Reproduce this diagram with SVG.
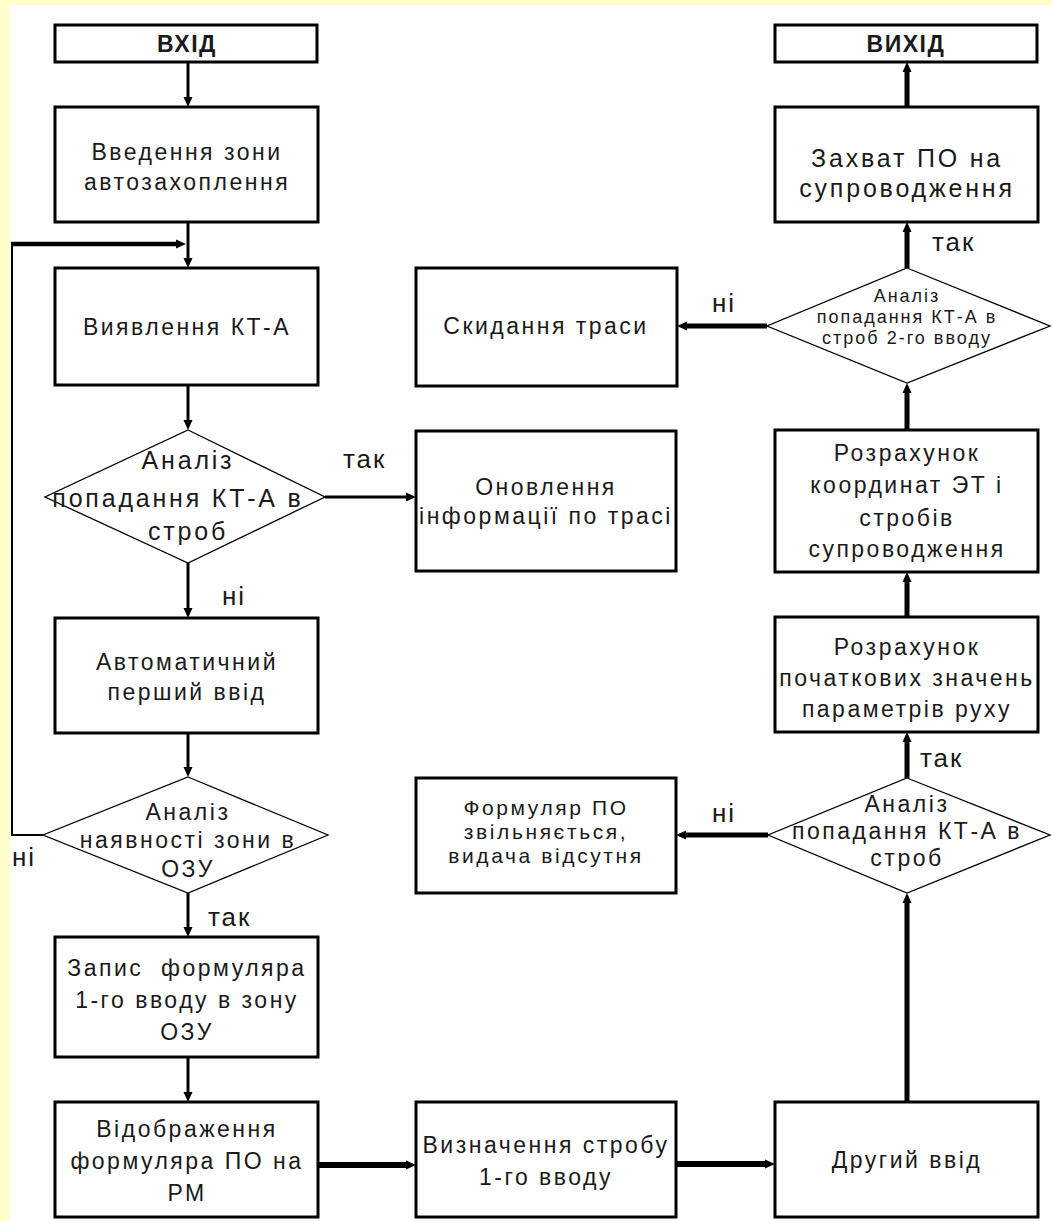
<svg xmlns="http://www.w3.org/2000/svg" width="1052" height="1221" viewBox="0 0 1052 1221">
<style>
.box{fill:#fff;stroke:#000;stroke-width:3}
.dia{fill:#fff;stroke:#000;stroke-width:1.3}
.t{font-family:"Liberation Sans",Arial,sans-serif;font-size:23px;letter-spacing:2.5px;fill:#1a1a1a;text-anchor:middle}
.b{font-weight:bold;font-size:23px;letter-spacing:1.5px}
.big{font-size:25px;letter-spacing:2.8px}
.sm{font-size:18px;letter-spacing:2px}
.mid{font-size:21px;letter-spacing:2.6px}
.lbl{font-family:"Liberation Sans",Arial,sans-serif;font-size:26px;letter-spacing:2px;fill:#1a1a1a}
.c{fill:none;stroke:#000;stroke-width:3}
.k{stroke-width:5}
.kk{stroke-width:6}
.thin{stroke-width:2}
</style>
<defs>
<marker id="ah" markerUnits="userSpaceOnUse" markerWidth="12" markerHeight="10" refX="2" refY="5" orient="auto">
<path d="M0,0.5 L10,5 L0,9.5 Z" fill="#000"/>
</marker>
</defs>
<rect x="0" y="0" width="1052" height="1221" fill="#FFFFCC"/>
<rect x="10" y="5" width="1042" height="1216" fill="#fff"/>

<g id="connectors">
<path class="c" d="M188,62 V99" marker-end="url(#ah)"/>
<path class="c" d="M188,222 V260" marker-end="url(#ah)"/>
<path class="c thin" d="M43,835 H12 V244"/>
<path class="c" style="stroke-width:4.5" d="M11,244 H178" marker-end="url(#ah)"/>
<path class="c" d="M188,385 V422" marker-end="url(#ah)"/>
<path class="c" d="M325,497 H408" marker-end="url(#ah)"/>
<path class="c" d="M188,563 V610" marker-end="url(#ah)"/>
<path class="c" d="M188,733 V769" marker-end="url(#ah)"/>
<path class="c" d="M188,893 V929" marker-end="url(#ah)"/>
<path class="c" d="M188,1057 V1094" marker-end="url(#ah)"/>
<path class="c kk" d="M318,1165 H408" marker-end="url(#ah)"/>
<path class="c kk" d="M676,1164 H767" marker-end="url(#ah)"/>
<path class="c k" d="M907,1102 V901" marker-end="url(#ah)"/>
<path class="c k" d="M768,835 H684" marker-end="url(#ah)"/>
<path class="c k" d="M907,778 V740" marker-end="url(#ah)"/>
<path class="c k" d="M907,617 V580" marker-end="url(#ah)"/>
<path class="c k" d="M907,430 V391" marker-end="url(#ah)"/>
<path class="c k" d="M767,326 H685" marker-end="url(#ah)"/>
<path class="c k" d="M907,268 V230" marker-end="url(#ah)"/>
<path class="c k" d="M907,107 V70" marker-end="url(#ah)"/>
</g>

<g id="lbl-d1-yes"><text class="lbl" x="343" y="468">так</text></g>
<g id="lbl-d1-no"><text class="lbl" x="222" y="605">ні</text></g>
<g id="lbl-d2-no"><text class="lbl" x="12" y="866">ні</text></g>
<g id="lbl-d2-yes"><text class="lbl" x="208" y="926">так</text></g>
<g id="lbl-d3-yes"><text class="lbl" x="932" y="251">так</text></g>
<g id="lbl-d3-no"><text class="lbl" x="712" y="312">ні</text></g>
<g id="lbl-d4-yes"><text class="lbl" x="920" y="767">так</text></g>
<g id="lbl-d4-no"><text class="lbl" x="712" y="822">ні</text></g>

<g id="n-vkhid">
<rect class="box" x="55" y="25" width="262" height="37"/>
<text class="t b" x="187" y="52">ВХІД</text>
</g>
<g id="n-vvedennia">
<rect class="box" x="55" y="107" width="263" height="115"/>
<text class="t" x="187" y="160">Введення зони</text>
<text class="t" x="187" y="190">автозахоплення</text>
</g>
<g id="n-vyiavlennia">
<rect class="box" x="55" y="268" width="263" height="117"/>
<text class="t" x="187" y="335">Виявлення КТ-А</text>
</g>
<g id="n-d1">
<polygon class="dia" points="188,430 325,497 188,563 45,497"/>
<text class="t big" x="188" y="469">Аналіз</text>
<text class="t big" x="178" y="507">попадання КТ-А в</text>
<text class="t big" x="188" y="540">строб</text>
</g>
<g id="n-onovlennia">
<rect class="box" x="416" y="431" width="260" height="140"/>
<text class="t" x="546" y="495">Оновлення</text>
<text class="t" x="546" y="524">інформації по трасі</text>
</g>
<g id="n-avtomat">
<rect class="box" x="55" y="618" width="263" height="115"/>
<text class="t" x="187" y="670">Автоматичний</text>
<text class="t" x="187" y="700">перший ввід</text>
</g>
<g id="n-d2">
<polygon class="dia" points="188,777 328,835 188,893 43,835"/>
<text class="t" x="188" y="820">Аналіз</text>
<text class="t" x="188" y="848">наявності зони в</text>
<text class="t" x="188" y="877">ОЗУ</text>
</g>
<g id="n-zapys">
<rect class="box" x="55" y="937" width="263" height="120"/>
<text class="t" x="187" y="976" xml:space="preserve">Запис  формуляра</text>
<text class="t" x="187" y="1008">1-го вводу в зону</text>
<text class="t" x="187" y="1040">ОЗУ</text>
</g>
<g id="n-vidobrazhennia">
<rect class="box" x="55" y="1102" width="263" height="115"/>
<text class="t" x="187" y="1137">Відображення</text>
<text class="t" x="187" y="1169">формуляра ПО на</text>
<text class="t" x="187" y="1201">РМ</text>
</g>
<g id="n-vyznachennia">
<rect class="box" x="416" y="1102" width="260" height="115"/>
<text class="t" x="546" y="1153">Визначення стробу</text>
<text class="t" x="546" y="1185">1-го вводу</text>
</g>
<g id="n-druhyi">
<rect class="box" x="775" y="1102" width="263" height="115"/>
<text class="t" x="907" y="1168">Другий ввід</text>
</g>
<g id="n-d4">
<polygon class="dia" points="907,778 1050,835 907,893 768,835"/>
<text class="t" x="907" y="812">Аналіз</text>
<text class="t" x="907" y="839">попадання КТ-А в</text>
<text class="t" x="907" y="866">строб</text>
</g>
<g id="n-formuliar">
<rect class="box" x="416" y="778" width="260" height="115"/>
<text class="t mid" x="546" y="815">Формуляр ПО</text>
<text class="t mid" x="546" y="839">звільняється,</text>
<text class="t mid" x="546" y="863">видача відсутня</text>
</g>
<g id="n-rozr-poch">
<rect class="box" x="775" y="617" width="263" height="115"/>
<text class="t" x="907" y="655">Розрахунок</text>
<text class="t" x="907" y="686">початкових значень</text>
<text class="t" x="907" y="717">параметрів руху</text>
</g>
<g id="n-rozr-koord">
<rect class="box" x="775" y="430" width="263" height="142"/>
<text class="t" x="907" y="461">Розрахунок</text>
<text class="t" x="907" y="493">координат ЭТ і</text>
<text class="t" x="907" y="526">стробів</text>
<text class="t" x="907" y="557">супроводження</text>
</g>
<g id="n-d3">
<polygon class="dia" points="907,268 1050,326 907,383 767,326"/>
<text class="t sm" x="907" y="302">Аналіз</text>
<text class="t sm" x="907" y="323">попадання КТ-А в</text>
<text class="t sm" x="907" y="344">строб 2-го вводу</text>
</g>
<g id="n-skydannia">
<rect class="box" x="416" y="268" width="261" height="118"/>
<text class="t" x="546" y="334">Скидання траси</text>
</g>
<g id="n-zakhvat">
<rect class="box" x="775" y="107" width="263" height="115"/>
<text class="t big" x="907" y="167">Захват ПО на</text>
<text class="t big" x="907" y="197">супроводження</text>
</g>
<g id="n-vykhid">
<rect class="box" x="775" y="25" width="262" height="37"/>
<text class="t b" x="906" y="52">ВИХІД</text>
</g>
</svg>
